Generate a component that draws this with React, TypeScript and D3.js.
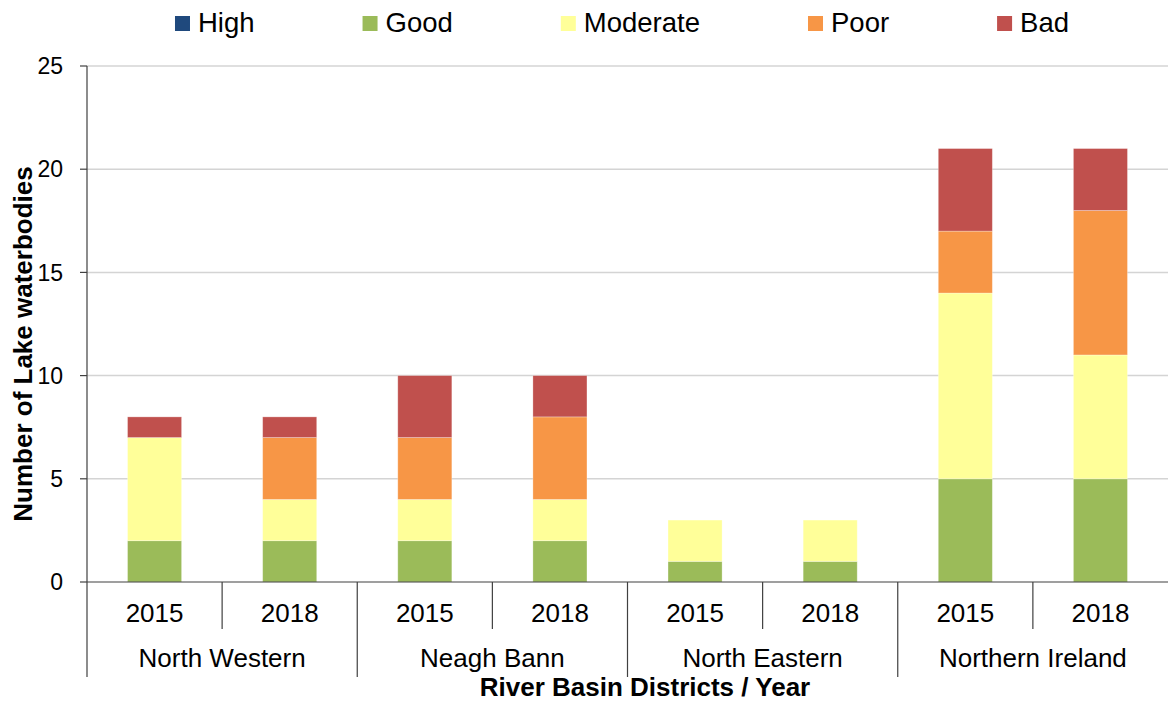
import React from "react";
import * as d3 from "d3";

// Lake waterbody status by River Basin District and reporting year
const districts = ["North Western", "Neagh Bann", "North Eastern", "Northern Ireland"];
const years = ["2015", "2018"];
const statuses = ["High", "Good", "Moderate", "Poor", "Bad"];
const statusColors = ["#1F497D", "#9BBB59", "#FFFF99", "#F79646", "#C0504D"];

// One value per bar (district × year order)
const highCounts = [0, 0, 0, 0, 0, 0, 0, 0];
const goodCounts = [2, 2, 2, 2, 1, 1, 5, 5];
const moderateCounts = [5, 2, 2, 2, 2, 2, 9, 6];
const poorCounts = [0, 3, 3, 4, 0, 0, 3, 7];
const badCounts = [1, 1, 3, 2, 0, 0, 4, 3];

const yTicks = [0, 5, 10, 15, 20, 25];

const WIDTH = 1168;
const HEIGHT = 702;
const FONT = "'Liberation Sans', Arial, sans-serif";

const measure = (() => {
  let ctx: CanvasRenderingContext2D | null = null;
  return (text: string, font: string) => {
    if (!ctx) ctx = document.createElement("canvas").getContext("2d");
    if (!ctx) return text.length * 14;
    ctx.font = font;
    return ctx.measureText(text).width;
  };
})();

export default function App() {
  React.useEffect(() => {
    document.body.style.margin = "0";
  }, []);

  const margin = { left: 87, right: 0, top: 66 };
  const plotBottom = 582;
  const plotRight = WIDTH - margin.right;

  const bars = districts.flatMap((d) => years.map((y) => `${d}|${y}`));
  const rows = bars.map((key, i) => ({
    key,
    High: highCounts[i],
    Good: goodCounts[i],
    Moderate: moderateCounts[i],
    Poor: poorCounts[i],
    Bad: badCounts[i],
  }));

  const x = d3
    .scaleBand<string>()
    .domain(bars)
    .range([margin.left, plotRight])
    .paddingInner(0.6)
    .paddingOuter(0.3);

  const y = d3.scaleLinear().domain([0, 25]).range([plotBottom, margin.top]);

  const stack = d3.stack<any>().keys(statuses);
  const series = stack(rows);

  const step = x.step();
  const groupWidth = step * years.length;

  // Legend layout: square, gap, label, then spacing before the next entry
  const legendSize = 27.5;
  const legendFont = `${legendSize}px ${FONT}`;
  const sq = 15;
  const sqGap = 8;
  const itemGap = 108;
  const widths = statuses.map((s) => sq + sqGap + measure(s, legendFont));
  const totalLegend = widths.reduce((a, b) => a + b, 0) + itemGap * (statuses.length - 1);
  let cursor = 622 - totalLegend / 2;
  const legendX = widths.map((w) => {
    const pos = cursor;
    cursor += w + itemGap;
    return pos;
  });

  return (
    <svg width={WIDTH} height={HEIGHT} style={{ display: "block", fontFamily: FONT }}>
      <rect width={WIDTH} height={HEIGHT} fill="#fff" />

      {/* legend */}
      {statuses.map((s, i) => (
        <g key={s} transform={`translate(${legendX[i]},0)`}>
          <rect x={0} y={16} width={sq} height={sq} fill={statusColors[i]} />
          <text x={sq + sqGap} y={32} fontSize={legendSize} fill="#000">
            {s}
          </text>
        </g>
      ))}

      {/* gridlines */}
      {yTicks
        .filter((t) => t > 0)
        .map((t) => (
          <line
            key={t}
            x1={margin.left}
            x2={plotRight}
            y1={y(t)}
            y2={y(t)}
            stroke="#d4d4d4"
            strokeWidth={1.5}
          />
        ))}

      {/* bars */}
      {series.map((s, si) => (
        <g key={s.key} fill={statusColors[si]}>
          {s.map((seg, i) =>
            seg[1] - seg[0] > 0 ? (
              <rect
                key={i}
                x={x(bars[i])}
                y={y(seg[1])}
                width={x.bandwidth()}
                height={y(seg[0]) - y(seg[1])}
                stroke="#ffffff"
                strokeOpacity={0.35}
                strokeWidth={0.8}
              />
            ) : null
          )}
        </g>
      ))}

      {/* y axis */}
      <line x1={margin.left} x2={margin.left} y1={y(25)} y2={677} stroke="#404040" strokeWidth={1.2} />
      {yTicks.map((t) => (
        <g key={t}>
          <line x1={80} x2={margin.left} y1={y(t)} y2={y(t)} stroke="#404040" strokeWidth={1.2} />
          <text x={63} y={y(t)} dy="0.36em" textAnchor="end" fontSize={23} fill="#000">
            {t}
          </text>
        </g>
      ))}

      {/* x axis */}
      <line x1={margin.left} x2={plotRight} y1={plotBottom} y2={plotBottom} stroke="#404040" strokeWidth={1.2} />
      {bars.map((b, i) => {
        const left = (x(b) as number) - step * 0.3;
        const isGroupStart = i % years.length === 0;
        return (
          <g key={b}>
            {i > 0 && (
              <line
                x1={left}
                x2={left}
                y1={plotBottom}
                y2={isGroupStart ? 677 : 629}
                stroke="#404040"
                strokeWidth={1.2}
              />
            )}
            <text
              x={(x(b) as number) + x.bandwidth() / 2}
              y={622}
              textAnchor="middle"
              fontSize={26}
              fill="#000"
            >
              {b.split("|")[1]}
            </text>
          </g>
        );
      })}
      {districts.map((d, i) => (
        <text
          key={d}
          x={margin.left + groupWidth * i + groupWidth / 2}
          y={667}
          textAnchor="middle"
          fontSize={26}
          fill="#000"
        >
          {d}
        </text>
      ))}

      {/* axis titles */}
      <text x={645} y={696} textAnchor="middle" fontSize={26} fontWeight="bold" fill="#000">
        River Basin Districts / Year
      </text>
      <text
        transform={`translate(32,344) rotate(-90)`}
        textAnchor="middle"
        fontSize={26}
        fontWeight="bold"
        fill="#000"
      >
        Number of Lake waterbodies
      </text>
    </svg>
  );
}
